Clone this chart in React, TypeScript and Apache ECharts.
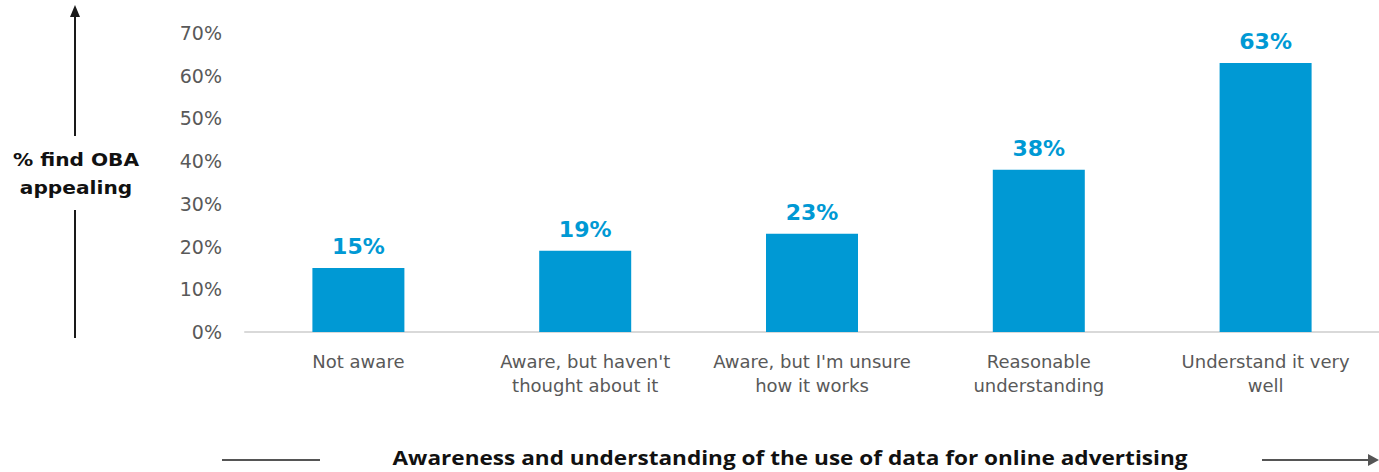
import React, { useEffect, useRef } from "react";
import * as echarts from "echarts";

const categories = [
  "Not aware",
  "Aware, but haven't\nthought about it",
  "Aware, but I'm unsure\nhow it works",
  "Reasonable\nunderstanding",
  "Understand it very\nwell",
];
const values = [15, 19, 23, 38, 63];
const yTicks = [0, 10, 20, 30, 40, 50, 60, 70];
const yTitle = "% find OBA\nappealing";
const xTitle = "Awareness and understanding of the use of data for online advertising";

export default function App() {
  const ref = useRef<HTMLDivElement>(null);
  useEffect(() => {
    const chart = echarts.init(ref.current!, null, { renderer: "svg" });
    const lineColor = "#1a1a1a";
    chart.setOption({
      animation: false,
      grid: { left: 245, right: 0, top: 33, bottom: 140 },
      xAxis: {
        type: "category",
        data: categories,
        axisLine: { lineStyle: { color: "#d9d9d9", width: 2 } },
        axisTick: { show: false },
        axisLabel: {
          color: "#595959",
          fontFamily: "DejaVu Sans",
          fontSize: 18,
          lineHeight: 24,
          margin: 17,
          interval: 0,
        },
      },
      yAxis: {
        type: "value",
        min: yTicks[0],
        max: yTicks[yTicks.length - 1],
        interval: 10,
        splitLine: { show: false },
        axisLine: { show: false },
        axisTick: { show: false },
        axisLabel: {
          color: "#595959",
          fontFamily: "DejaVu Sans",
          fontSize: 19,
          margin: 23,
          formatter: "{value}%",
        },
      },
      series: [
        {
          type: "bar",
          data: values,
          barWidth: 92,
          itemStyle: { color: "#0099d4" },
          label: {
            show: true,
            position: "top",
            distance: 10,
            formatter: "{c}%",
            color: "#0099d4",
            fontFamily: "DejaVu Sans",
            fontWeight: "bold",
            fontSize: 22,
          },
        },
      ],
      graphic: [
        {
          type: "line",
          shape: { x1: 75, y1: 14, x2: 75, y2: 136 },
          style: { stroke: lineColor, lineWidth: 2 },
        },
        {
          type: "polygon",
          shape: { points: [[75, 5], [70, 17], [80, 17]] },
          style: { fill: lineColor },
        },
        {
          type: "line",
          shape: { x1: 75, y1: 210, x2: 75, y2: 338 },
          style: { stroke: lineColor, lineWidth: 2 },
        },
        {
          type: "text",
          x: 76,
          y: 174,
          scaleX: 1.12,
          style: {
            text: yTitle,
            fill: "#111",
            fontFamily: "DejaVu Sans",
            fontWeight: "bold",
            fontSize: 18,
            lineHeight: 28,
            align: "center",
            verticalAlign: "middle",
          },
        },
        {
          type: "line",
          shape: { x1: 222, y1: 460, x2: 320, y2: 460 },
          style: { stroke: "#555", lineWidth: 2 },
        },
        {
          type: "line",
          shape: { x1: 1262, y1: 460, x2: 1370, y2: 460 },
          style: { stroke: "#555", lineWidth: 2 },
        },
        {
          type: "polygon",
          shape: { points: [[1379, 460], [1368, 454], [1368, 466]] },
          style: { fill: "#555" },
        },
        {
          type: "text",
          x: 790,
          y: 457,
          scaleX: 1.13,
          style: {
            text: xTitle,
            fill: "#111",
            fontFamily: "Open Sans",
            fontWeight: "bold",
            fontSize: 20,
            align: "center",
            verticalAlign: "middle",
          },
        },
      ],
    });
    return () => chart.dispose();
  }, []);
  return (
    <div
      ref={ref}
      style={{ position: "absolute", left: 0, top: 0, width: 1379, height: 472 }}
    />
  );
}
